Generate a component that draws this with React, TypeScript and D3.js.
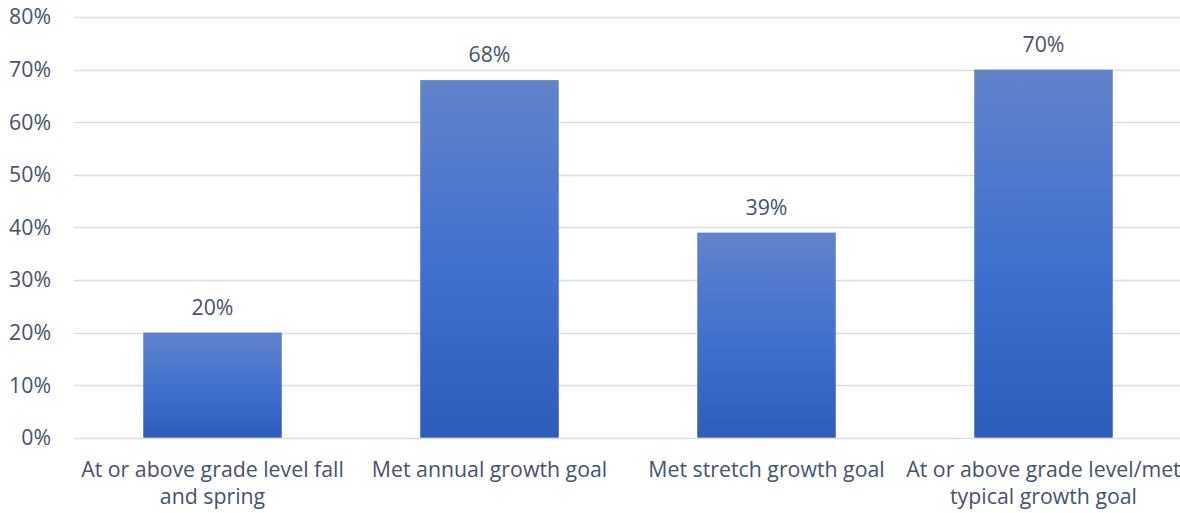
import React, { useEffect, useRef } from "react";
import * as d3 from "d3";

const categories = [
  "At or above grade level fall and spring",
  "Met annual growth goal",
  "Met stretch growth goal",
  "At or above grade level/met typical growth goal",
];
const values = [20, 68, 39, 70];
const yTicks = [0, 10, 20, 30, 40, 50, 60, 70, 80];

const W = 1180;
const H = 513;
const FONT = "'Open Sans', Lato, sans-serif";
const FS = 21.3;
const TEXT = "#44546A";

export default function App() {
  const ref = useRef<SVGSVGElement>(null);

  useEffect(() => {
    const svg = d3.select(ref.current);
    svg.selectAll("*").remove();

    const x = d3.scaleBand<string>().domain(categories).range([74, 74 + 277 * 4]).paddingInner(0.5).paddingOuter(0.25);
    const y = d3.scaleLinear().domain([0, 80]).range([437.7, 17]);

    const defs = svg.append("defs");
    const grad = defs.append("linearGradient").attr("id", "barGrad").attr("x1", 0).attr("y1", 0).attr("x2", 0).attr("y2", 1);
    grad.append("stop").attr("offset", "0%").attr("stop-color", "#6183CA");
    grad.append("stop").attr("offset", "50%").attr("stop-color", "#4371CF");
    grad.append("stop").attr("offset", "100%").attr("stop-color", "#2E5CBA");

    svg.append("g")
      .selectAll("line")
      .data(yTicks)
      .join("line")
      .attr("x1", 74)
      .attr("x2", W)
      .attr("y1", (d) => Math.round(y(d)) + 0.5)
      .attr("y2", (d) => Math.round(y(d)) + 0.5)
      .attr("stroke", "#D9DEE6")
      .attr("stroke-width", 1.5);

    svg.append("g")
      .selectAll("text")
      .data(yTicks)
      .join("text")
      .attr("x", 51)
      .attr("y", (d) => y(d))
      .attr("dy", "0.35em")
      .attr("text-anchor", "end")
      .attr("font-family", FONT)
      .attr("font-size", FS)
      .attr("fill", TEXT)
      .text((d) => `${d}%`);

    svg.append("g")
      .selectAll("rect")
      .data(values)
      .join("rect")
      .attr("x", (_, i) => x(categories[i])!)
      .attr("width", x.bandwidth())
      .attr("y", (d) => y(d))
      .attr("height", (d) => y(0) - y(d))
      .attr("fill", "url(#barGrad)");

    svg.append("g")
      .selectAll("text")
      .data(values)
      .join("text")
      .attr("x", (_, i) => x(categories[i])! + x.bandwidth() / 2)
      .attr("y", (d) => y(d) - 18)
      .attr("text-anchor", "middle")
      .attr("font-family", FONT)
      .attr("font-size", FS)
      .attr("fill", TEXT)
      .text((d) => `${d}%`);

    const step = x.step();
    const g = svg.append("g");
    categories.forEach((c) => {
      const cx = x(c)! + x.bandwidth() / 2;
      const t = g.append("text")
        .attr("x", cx)
        .attr("y", 477)
        .attr("text-anchor", "middle")
        .attr("font-family", FONT)
        .attr("font-size", FS)
        .attr("fill", TEXT);
      const words = c.split(" ");
      let line: string[] = [];
      let lineNo = 0;
      let tspan = t.append("tspan").attr("x", cx).attr("y", 477);
      for (const w of words) {
        line.push(w);
        tspan.text(line.join(" "));
        if ((tspan.node() as SVGTSpanElement).getComputedTextLength() > step + 6 && line.length > 1) {
          line.pop();
          tspan.text(line.join(" "));
          line = [w];
          lineNo++;
          tspan = t.append("tspan").attr("x", cx).attr("y", 477 + lineNo * 27).text(w);
        }
      }
    });
  }, []);

  return (
    <svg ref={ref} width={W} height={H} style={{ position: "absolute", left: 0, top: 0, display: "block" }} />
  );
}
